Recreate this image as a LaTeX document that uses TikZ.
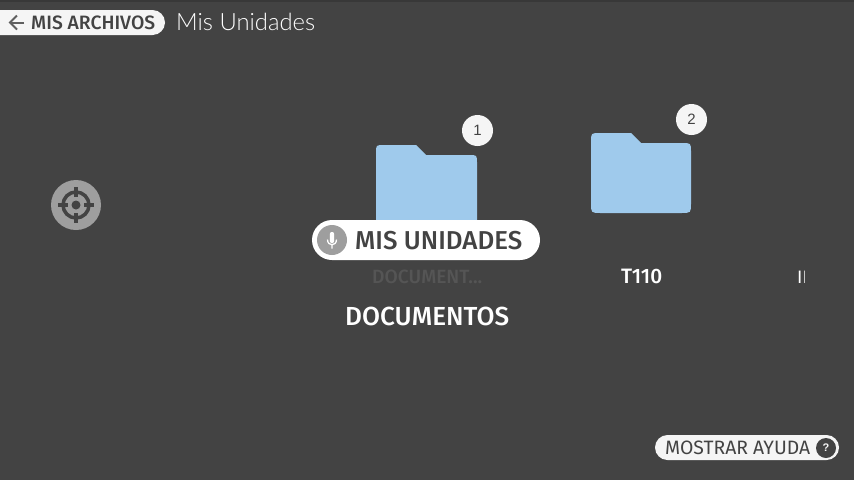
\documentclass[tikz,border=0pt]{standalone}
\usepackage{fontspec}
\setmainfont{Liberation Sans}
\newfontfamily\lightf{Lato Light}
\newfontfamily\medf{Fira Sans Medium}
\newfontfamily\regf{Fira Sans}
\definecolor{bgc}{HTML}{434343}
\definecolor{topc}{HTML}{383838}
\definecolor{pillc}{HTML}{F5F5F5}
\definecolor{folderc}{HTML}{9FCAEC}
\definecolor{iconc}{HTML}{9E9E9E}
\definecolor{dimc}{HTML}{555555}
\tikzset{
  lbl/.style={inner sep=0pt,anchor=base west},
  badge/.style={circle,fill=pillc,minimum size=31pt,inner sep=0pt,text=bgc,font=\fontsize{15}{15}\selectfont},
  folderbody/.style={fill=folderc,draw=none},
}
\newcommand{\fitw}[2]{\resizebox{#1pt}{!}{#2}}
\begin{document}
\begin{tikzpicture}[x=1pt,y=-1pt]
\useasboundingbox (0,0) rectangle (854,480);
\fill[bgc] (0,0) rectangle (854,480);
\fill[topc] (0,0) rectangle (854,1.5);
% top left
\fill[pillc,rounded corners=12.5pt] (-20,10) rectangle (165,35);
\coordinate (arT) at (24,22.5); \coordinate (arH) at (10,22.5);
\draw[bgc!85!white,line width=2pt] (arT) -- (arH);
\draw[bgc!85!white,line width=2pt] (17,15.5) -- (arH) -- (17,29.5);
\node[lbl,text=bgc] (back) at (31,29) {\fontsize{17}{17}\selectfont\medf\fitw{124}{MIS ARCHIVOS}};
\node[lbl,text=white] (title) at (176,30) {\fontsize{23}{23}\selectfont\lightf\fitw{139}{Mis Unidades}};
% target
\fill[iconc] (76,205) circle (25);
\draw[bgc,line width=3.5pt] (76,205) circle (13);
\fill[bgc] (76,205) circle (4.5);
\draw[bgc,line width=3.5pt] (76,187) -- (76,197) (76,213) -- (76,223) (58,205) -- (68,205) (84,205) -- (94,205);
% folder 1
\fill[folderbody] (384,145) -- (416,145) -- (426,155) -- (469,155) .. controls (477,155) .. (477,163) -- (477,225) -- (376,225) -- (376,153) .. controls (376,145) .. (384,145) -- cycle;
\node[badge] (b1) at (477.5,130.5) {1};
% folder 2
\fill[folderbody] (600,133) -- (631,133) -- (641,143) -- (682,143) .. controls (691,143) .. (691,152) -- (691,203) .. controls (691,213) .. (681,213) -- (601,213) .. controls (591,213) .. (591,203) -- (591,142) .. controls (591,133) .. (600,133) -- cycle;
\node[badge] (b2) at (691.5,119.5) {2};
% labels
\node[lbl,text=dimc] (d1) at (372,283) {\fontsize{16}{16}\selectfont\medf\fitw{110}{DOCUMENT...}};
\node[lbl,text=white] (t110) at (621,283) {\fontsize{16}{16}\selectfont\medf\fitw{41}{T110}};
\begin{scope}
\clip (790,265) rectangle (804.5,290);
\node[lbl,text=white] (next) at (797,283.5) {\fontsize{18}{18}\selectfont\regf II};
\end{scope}
\node[lbl,text=white] (docs) at (345,325) {\fontsize{23}{23}\selectfont\medf\fitw{164}{DOCUMENTOS}};
% main pill
\fill[white,rounded corners=20pt] (312,220) rectangle (540,260);
\fill[iconc] (332,240) circle (15);
\fill[white,rounded corners=2pt] (329.8,232) rectangle (334.2,243);
\draw[white,line width=1.3pt] (327.5,239.5) .. controls (327.5,246.5) and (336.5,246.5) .. (336.5,239.5) (332,245) -- (332,248.5);
\node[lbl,text=bgc] (mu) at (355,249.5) {\fontsize{24}{24}\selectfont\medf\fitw{167}{MIS UNIDADES}};
% help pill
\fill[pillc,rounded corners=12.5pt] (655,435) rectangle (839,460);
\node[lbl,text=bgc] (help) at (665,454) {\fontsize{17}{17}\selectfont\regf\fitw{145}{MOSTRAR AYUDA}};
\node[circle,fill=bgc,minimum size=20pt,inner sep=0pt,text=pillc,font=\fontsize{11}{11}\selectfont\bfseries] (q) at (826,448) {?};
\end{tikzpicture}
\end{document}
